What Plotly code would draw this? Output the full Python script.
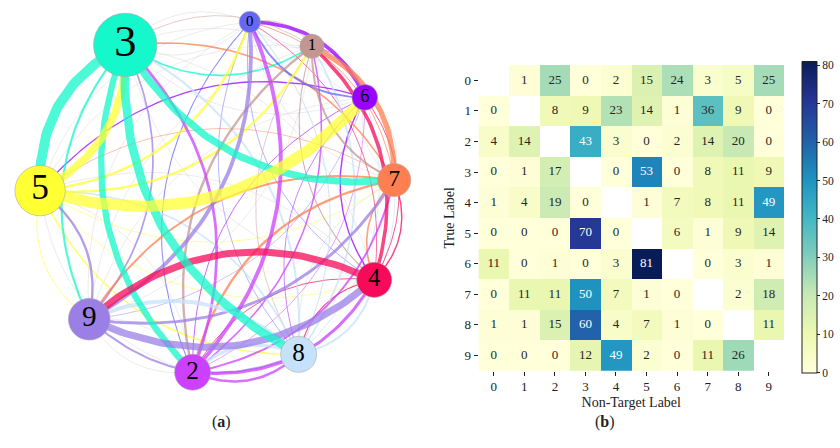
import numpy as np
import plotly.graph_objects as go

# ---------------- data ----------------
labels = [str(i) for i in range(10)]
tick_vals = list(range(10))
# rows = true label, columns = non-target label (diagonal empty)
row0 = [None, 1, 25, 0, 2, 15, 24, 3, 5, 25]
row1 = [0, None, 8, 9, 23, 14, 1, 36, 9, 0]
row2 = [4, 14, None, 43, 3, 0, 2, 14, 20, 0]
row3 = [0, 1, 17, None, 0, 53, 0, 8, 11, 9]
row4 = [1, 4, 19, 0, None, 1, 7, 8, 11, 49]
row5 = [0, 0, 0, 70, 0, None, 6, 1, 9, 14]
row6 = [11, 0, 1, 0, 3, 81, None, 0, 3, 1]
row7 = [0, 11, 11, 50, 7, 1, 0, None, 2, 18]
row8 = [1, 1, 15, 60, 4, 7, 1, 0, None, 11]
row9 = [0, 0, 0, 12, 49, 2, 0, 11, 26, None]
M = [row0, row1, row2, row3, row4, row5, row6, row7, row8, row9]
cbar_ticks = [0, 10, 20, 30, 40, 50, 60, 70, 80]

# ---------------- style ----------------
node_colors = ["#6767F7", "#C4968F", "#CC40FF", "#14F8CC", "#F80A5A",
               "#FFFF33", "#9900FF", "#FF7F50", "#C6E2FA", "#9B7FE6"]
SERIF = "Liberation Serif"
W, H = 840, 448
n = len(labels)

# ---------------- network layout ----------------
col_sums = [sum(M[i][j] for i in range(n) if M[i][j] is not None) for j in range(n)]
r_px = [9.1 + 0.0925 * s for s in col_sums]
order = sorted(range(n), key=lambda j: (col_sums[j], -j))
pad = 1.7
gaps = [r_px[order[k]] + r_px[order[(k + 1) % n]] - pad for k in range(n)]
tot = sum(gaps)
ang = {}
a = 10.5
for k, j in enumerate(order):
    ang[j] = a
    a += 360 * gaps[k] / tot
px_per_unit = 177.5
cx_px, cy_px = 217.5, 196.5
pos = {j: (np.sin(np.radians(ang[j])), np.cos(np.radians(ang[j]))) for j in range(n)}

fig = go.Figure()

# edges: from non-target node j to true node i, coloured by j
edges = []
for i in range(n):
    for j in range(n):
        if i != j:
            edges.append((M[i][j], j, i))
edges.sort(key=lambda e: e[0])
rad = 0.32
t = np.linspace(0, 1, 48)
for v, s, d in edges:
    x0, y0 = pos[s]
    x1, y1 = pos[d]
    dx, dy = x1 - x0, y1 - y0
    cx = (x0 + x1) / 2 + rad * dy
    cy = (y0 + y1) / 2 - rad * dx
    bx = (1 - t) ** 2 * x0 + 2 * (1 - t) * t * cx + t ** 2 * x1
    by = (1 - t) ** 2 * y0 + 2 * (1 - t) * t * cy + t ** 2 * y1
    if v == 0:
        col, w, op = "#d4d4d4", 0.6, 0.7
    else:
        col, w, op = node_colors[s], 0.5 + v / 7.5, 0.75
    fig.add_trace(go.Scatter(x=bx, y=by, mode="lines", opacity=op,
                             line=dict(color=col, width=w), hoverinfo="skip",
                             showlegend=False, xaxis="x", yaxis="y"))

fig.add_trace(go.Scatter(
    x=[pos[j][0] for j in range(n)], y=[pos[j][1] for j in range(n)],
    mode="markers+text", text=labels, textposition="middle center",
    textfont=dict(family=SERIF, color="black", size=[1.4 * r for r in r_px]),
    marker=dict(size=[2 * r for r in r_px], color=node_colors, opacity=1,
                line=dict(color="#aaaaaa", width=0.6)),
    hoverinfo="skip", showlegend=False, xaxis="x", yaxis="y"))

# ---------------- heatmap ----------------
fig.add_trace(go.Heatmap(
    z=M, x=tick_vals, y=tick_vals, colorscale="YlGnBu", zmin=0, zmax=81,
    xaxis="x2", yaxis="y2", hoverinfo="skip",
    colorbar=dict(thickness=14.5, len=311 / H, lenmode="fraction", xpad=0, ypad=0,
                  x=802 / W, xanchor="left", y=1 - 217 / H, yanchor="middle",
                  outlinewidth=1, outlinecolor="#222",
                  tickvals=cbar_ticks, ticks="outside", ticklen=3, tickcolor="#222",
                  tickfont=dict(family=SERIF, size=11.5, color="#222"))))

tx, ty, tt, tc = [], [], [], []
for i in range(n):
    for j in range(n):
        v = M[i][j]
        if v is None:
            continue
        tx.append(j); ty.append(i); tt.append(str(v))
        tc.append("white" if v > 40 else "#262626")
fig.add_trace(go.Scatter(x=tx, y=ty, text=tt, mode="text",
                         textfont=dict(family=SERIF, size=13, color=tc),
                         hoverinfo="skip", showlegend=False, xaxis="x2", yaxis="y2"))

x_left, x_right = 478.5 / W, 784 / W
y_top, y_bot = 1 - 65 / H, 1 - 370.7 / H

fig.update_layout(
    width=W, height=H, margin=dict(l=0, r=0, t=0, b=0, autoexpand=False),
    paper_bgcolor="white", plot_bgcolor="white",
    xaxis=dict(domain=[0, 420 / W], range=[-cx_px / px_per_unit, (420 - cx_px) / px_per_unit],
               visible=False, fixedrange=True),
    yaxis=dict(domain=[0, 1], range=[-(H - cy_px) / px_per_unit, cy_px / px_per_unit],
               visible=False, fixedrange=True),
    xaxis2=dict(domain=[x_left, x_right], range=[-0.5, 9.5], anchor="y2",
                tickvals=tick_vals, ticktext=labels, ticks="outside", ticklen=4,
                tickcolor="#222", showgrid=False, zeroline=False, showline=False,
                tickfont=dict(family=SERIF, size=13, color="#222"),
                title=dict(text="Non-Target Label", standoff=3,
                           font=dict(family=SERIF, size=14, color="#222"))),
    yaxis2=dict(domain=[y_bot, y_top], range=[9.5, -0.5], anchor="x2",
                tickvals=tick_vals, ticktext=labels, ticks="outside", ticklen=4,
                tickcolor="#222", showgrid=False, zeroline=False, showline=False,
                tickfont=dict(family=SERIF, size=13, color="#222"),
                title=dict(text="True Label", standoff=6,
                           font=dict(family=SERIF, size=14, color="#222"))),
    annotations=[
        dict(text="(<b>a</b>)", x=210 / W, y=1 - 433 / H, xref="paper", yref="paper",
             showarrow=False, font=dict(family=SERIF, size=16, color="#222")),
        dict(text="(<b>b</b>)", x=617 / W, y=1 - 433 / H, xref="paper", yref="paper",
             showarrow=False, font=dict(family=SERIF, size=16, color="#222")),
    ],
)

fig.write_html("out.html", config={"displayModeBar": False},
               post_script="document.body.style.margin='0';")
